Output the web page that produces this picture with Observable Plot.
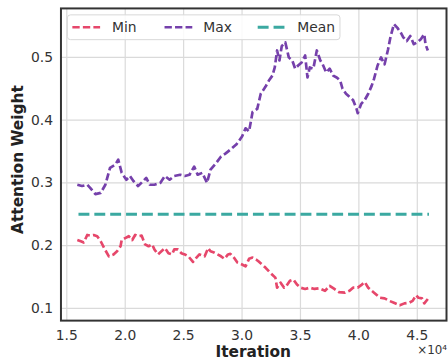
<!DOCTYPE html>
<html><head><meta charset="utf-8">
<script src="https://cdn.jsdelivr.net/npm/d3@7"></script>
<script src="https://cdn.jsdelivr.net/npm/@observablehq/plot@0.6"></script>
<style>
html,body{margin:0;padding:0;background:#fff;overflow:hidden;}
#chart{width:448px;height:364px;overflow:hidden;}
#chart svg{display:block;}
</style></head><body><div id="chart"></div>
<script>
// ---- data ----
const seriesNames = ["Min", "Max", "Mean"];
const xTicks = [15000, 20000, 25000, 30000, 35000, 40000, 45000];
const yTicks = [0.1, 0.2, 0.3, 0.4, 0.5];

const maxIter = [15900,16300,16750,17000,17450,17900,18300,18700,19150,19400,
  19700,20100,20400,20700,21100,21550,21800,22100,22500,23000,
  23400,23800,24200,24700,25100,25500,25900,26200,26600,27000,
  27300,27800,28200,28600,29000,29500,29700,30000,30300,30600,
  30900,31300,31600,32000,32300,32600,32800,33000,33200,33400,
  33700,34000,34300,34550,34800,35100,35400,35600,35800,36100,
  36400,36700,36900,37200,37500,37800,38100,38400,38600,38900,
  39200,39500,39800,39900,40200,40500,40800,41100,41300,41600,
  41900,42200,42500,42700,43000,43300,43600,43800,44100,44400,
  44700,45000,45300,45600,45700,45900];
const maxVal = [0.297,0.295,0.297,0.292,0.282,0.284,0.297,0.324,0.329,0.337,
  0.316,0.305,0.311,0.303,0.295,0.303,0.308,0.297,0.297,0.300,
  0.311,0.305,0.311,0.313,0.311,0.313,0.326,0.313,0.316,0.300,
  0.321,0.332,0.342,0.347,0.353,0.361,0.366,0.374,0.387,0.382,
  0.413,0.418,0.442,0.453,0.463,0.471,0.484,0.511,0.495,0.518,
  0.524,0.500,0.495,0.482,0.487,0.492,0.503,0.468,0.484,0.482,
  0.511,0.495,0.489,0.476,0.482,0.471,0.468,0.463,0.450,0.442,
  0.437,0.432,0.418,0.411,0.426,0.432,0.442,0.455,0.466,0.487,
  0.500,0.489,0.513,0.532,0.553,0.547,0.539,0.532,0.526,0.534,
  0.521,0.524,0.529,0.537,0.521,0.511];

const minIter = [15900,16200,16450,16750,17000,17300,17600,17900,18200,18600,
  19000,19300,19600,19700,20000,20300,20600,20850,21100,21400,
  21700,22000,22300,22500,22800,23100,23400,23700,24000,24200,
  24500,24800,25100,25400,25800,26100,26350,26800,27100,27300,
  27600,27900,28200,28500,28800,29000,29300,29600,30000,30300,
  30600,30900,31200,31400,31700,32000,32400,32850,33000,33300,
  33600,33800,34100,34400,34700,35000,35400,35800,36200,36600,
  37100,37500,37900,38300,38800,39200,39500,39900,40200,40500,
  40800,41100,41300,41800,42200,42600,43000,43500,43900,44300,
  44600,44900,45100,45400,45600,45900];
const minVal = [0.209,0.207,0.205,0.217,0.216,0.217,0.215,0.207,0.196,0.183,
  0.186,0.191,0.199,0.209,0.212,0.215,0.209,0.217,0.215,0.216,
  0.202,0.199,0.202,0.194,0.186,0.191,0.196,0.188,0.186,0.194,
  0.194,0.188,0.186,0.183,0.174,0.181,0.186,0.183,0.196,0.191,
  0.189,0.186,0.183,0.179,0.186,0.187,0.181,0.173,0.170,0.167,
  0.179,0.181,0.178,0.175,0.170,0.165,0.157,0.149,0.133,0.141,
  0.133,0.136,0.144,0.146,0.138,0.133,0.131,0.133,0.131,0.132,
  0.128,0.136,0.131,0.126,0.125,0.128,0.133,0.133,0.137,0.142,
  0.133,0.128,0.125,0.117,0.116,0.112,0.109,0.105,0.108,0.109,
  0.112,0.121,0.117,0.116,0.108,0.115];

const meanIter = [16000, 46000];
const meanVal = [0.25, 0.25];

// ---- styling ----
const colors = {Min: "#e6476b", Max: "#7540ab", Mean: "#3ba9a1"};
const dashes = {Min: "7.4,3.2", Max: "7.4,3.2", Mean: "11,5"};
const widths = {Min: 2.7, Max: 2.7, Mean: 3};

const toRows = (xs, ys) => xs.map((x, i) => ({it: x, v: ys[i]}));
const minData = toRows(minIter, minVal);
const maxData = toRows(maxIter, maxVal);
const meanData = toRows(meanIter, meanVal);

const W = 452, H = 364, ML = 61, MR = 2, MT = 8, MB = 41;
const font = "DejaVu Sans, sans-serif";

const lineMark = (data, name) => Plot.line(data, {
  x: "it", y: "v", stroke: colors[name], strokeWidth: widths[name],
  strokeDasharray: dashes[name], strokeLinejoin: "round", strokeLinecap: "butt"
});

const svg = Plot.plot({
  width: W, height: H,
  marginLeft: ML, marginRight: MR, marginTop: MT, marginBottom: MB,
  style: {fontFamily: font, fontSize: "14px", color: "#333", background: "#fff"},
  x: {domain: [14500, 47500], label: null},
  y: {domain: [0.0805, 0.578], label: null},
  marks: [
    Plot.gridX(xTicks, {stroke: "#dadada", strokeOpacity: 1, strokeWidth: 1.2}),
    Plot.gridY(yTicks, {stroke: "#dadada", strokeOpacity: 1, strokeWidth: 1.2}),
    Plot.axisX(xTicks, {tickSize: 0, tickPadding: 10, fontSize: 14, tickFormat: d => (d / 1e4).toFixed(1), label: null}),
    Plot.axisY(yTicks, {tickSize: 0, tickPadding: 8, fontSize: 14, tickFormat: d => d.toFixed(1), label: null}),
    lineMark(minData, "Min"),
    lineMark(maxData, "Max"),
    lineMark(meanData, "Mean"),
    Plot.frame({stroke: "#333", strokeWidth: 2})
  ]
});

const s = d3.select(svg);
// axis labels
s.append("text").attr("x", (ML + W - MR) / 2).attr("y", 360.5)
  .attr("text-anchor", "middle").attr("font-family", font).attr("font-weight", "bold")
  .attr("font-size", 15.5).attr("fill", "#222").text("Iteration");
s.append("text").attr("transform", "translate(23,161) rotate(-90)")
  .attr("text-anchor", "middle").attr("font-family", font).attr("font-weight", "bold")
  .attr("font-size", 15.5).attr("fill", "#222").text("Attention Weight");
s.append("text").attr("x", 421).attr("y", 357).attr("text-anchor", "start")
  .attr("font-family", font).attr("font-size", 12).attr("fill", "#333").text("×10⁴");

// legend
const lg = s.append("g");
lg.append("rect").attr("x", 68).attr("y", 15).attr("width", 275).attr("height", 25)
  .attr("rx", 3).attr("fill", "#fff").attr("fill-opacity", 0.85)
  .attr("stroke", "#d8d8d8").attr("stroke-width", 1);
const entries = [
  {name: "Min", x0: 73, tx: 113},
  {name: "Max", x0: 166, tx: 205},
  {name: "Mean", x0: 260, tx: 300}
];
entries.forEach(e => {
  lg.append("line").attr("x1", e.x0).attr("x2", e.x0 + 28).attr("y1", 27.5).attr("y2", 27.5)
    .attr("stroke", colors[e.name]).attr("stroke-width", widths[e.name])
    .attr("stroke-dasharray", dashes[e.name]);
  lg.append("text").attr("x", e.tx).attr("y", 32.5).attr("text-anchor", "start")
    .attr("font-family", font).attr("font-size", 14).attr("fill", "#333").text(e.name);
});

document.getElementById("chart").appendChild(svg);
</script>
</body></html>
